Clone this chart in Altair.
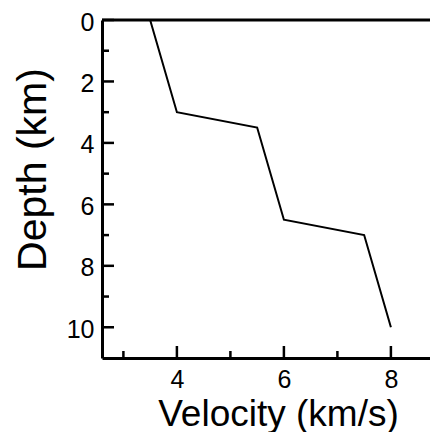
import altair as alt
import pandas as pd

velocity = [3.5, 4.0, 5.5, 6.0, 7.5, 8.0]
depth = [0.0, 3.0, 3.5, 6.5, 7.0, 10.0]

x_major = [4, 6, 8]
x_minor = [3, 5, 7]
y_major = [0, 2, 4, 6, 8, 10]
y_minor = [1, 3, 5, 7, 9]

W = 328
H = 338
FONT = "Liberation Sans"

xs = alt.Scale(domain=[2.6, 2.6 + W / 53.5], nice=False, zero=False)
ys = alt.Scale(domain=[0, 11], reverse=True, nice=False, zero=False)

x_axis = alt.Axis(values=x_major, ticks=False, tickSize=0, grid=False,
                  labelPadding=9,
                  titleFontSize=37, titleY=67, titleX=176,
                  titleBaseline="alphabetic", titleAlign="center")
y_axis = alt.Axis(values=y_major, ticks=False, tickSize=0, grid=False,
                  labelPadding=8, labelOffset=2,
                  titleFontSize=41, titleX=-57, titleY=149, titleAngle=270,
                  titleBaseline="alphabetic", titleAlign="center")
XT = "Velocity (km/s)"
YT = "Depth (km)"

df = pd.DataFrame({"v": velocity, "d": depth, "o": list(range(len(velocity)))})

line = alt.Chart(df).mark_line(color="black", strokeWidth=2).encode(
    x=alt.X("v:Q", scale=xs, title=XT, axis=x_axis),
    y=alt.Y("d:Q", scale=ys, title=YT, axis=y_axis),
    order="o:O",
)

def xticks(vals, length):
    return alt.Chart(pd.DataFrame({"v": vals})).mark_rule(color="black", strokeWidth=2.5).encode(
        x=alt.X("v:Q", scale=xs, title=XT, axis=x_axis),
        y=alt.value(H),
        y2=alt.value(H - length),
    )

def yticks(vals, length):
    return alt.Chart(pd.DataFrame({"d": vals})).mark_rule(color="black", strokeWidth=2.5).encode(
        y=alt.Y("d:Q", scale=ys, title=YT, axis=y_axis),
        x=alt.value(0),
        x2=alt.value(length),
    )

top = alt.Chart(pd.DataFrame({"d": [0]})).mark_rule(color="black", strokeWidth=3).encode(
    y=alt.Y("d:Q", scale=ys, title=YT, axis=y_axis),
    x=alt.value(0),
    x2=alt.value(W),
)

chart = alt.layer(
    line,
    xticks(x_major, 12), xticks(x_minor, 7),
    yticks(y_major, 12), yticks(y_minor, 7),
    top,
).properties(
    width=W, height=H,
    autosize=alt.AutoSizeParams(type="none"),
    padding={"left": 94, "top": 12, "right": 0, "bottom": 74},
    background="white",
).configure_view(stroke=None).configure_axis(
    domainColor="black", domainWidth=3,
    labelFont=FONT, labelFontSize=25, labelColor="black", labelFlush=False,
    titleFont=FONT, titleFontWeight="normal", titleColor="black",
)

chart.save("out.html", embed_options={"renderer": "svg", "actions": False})
